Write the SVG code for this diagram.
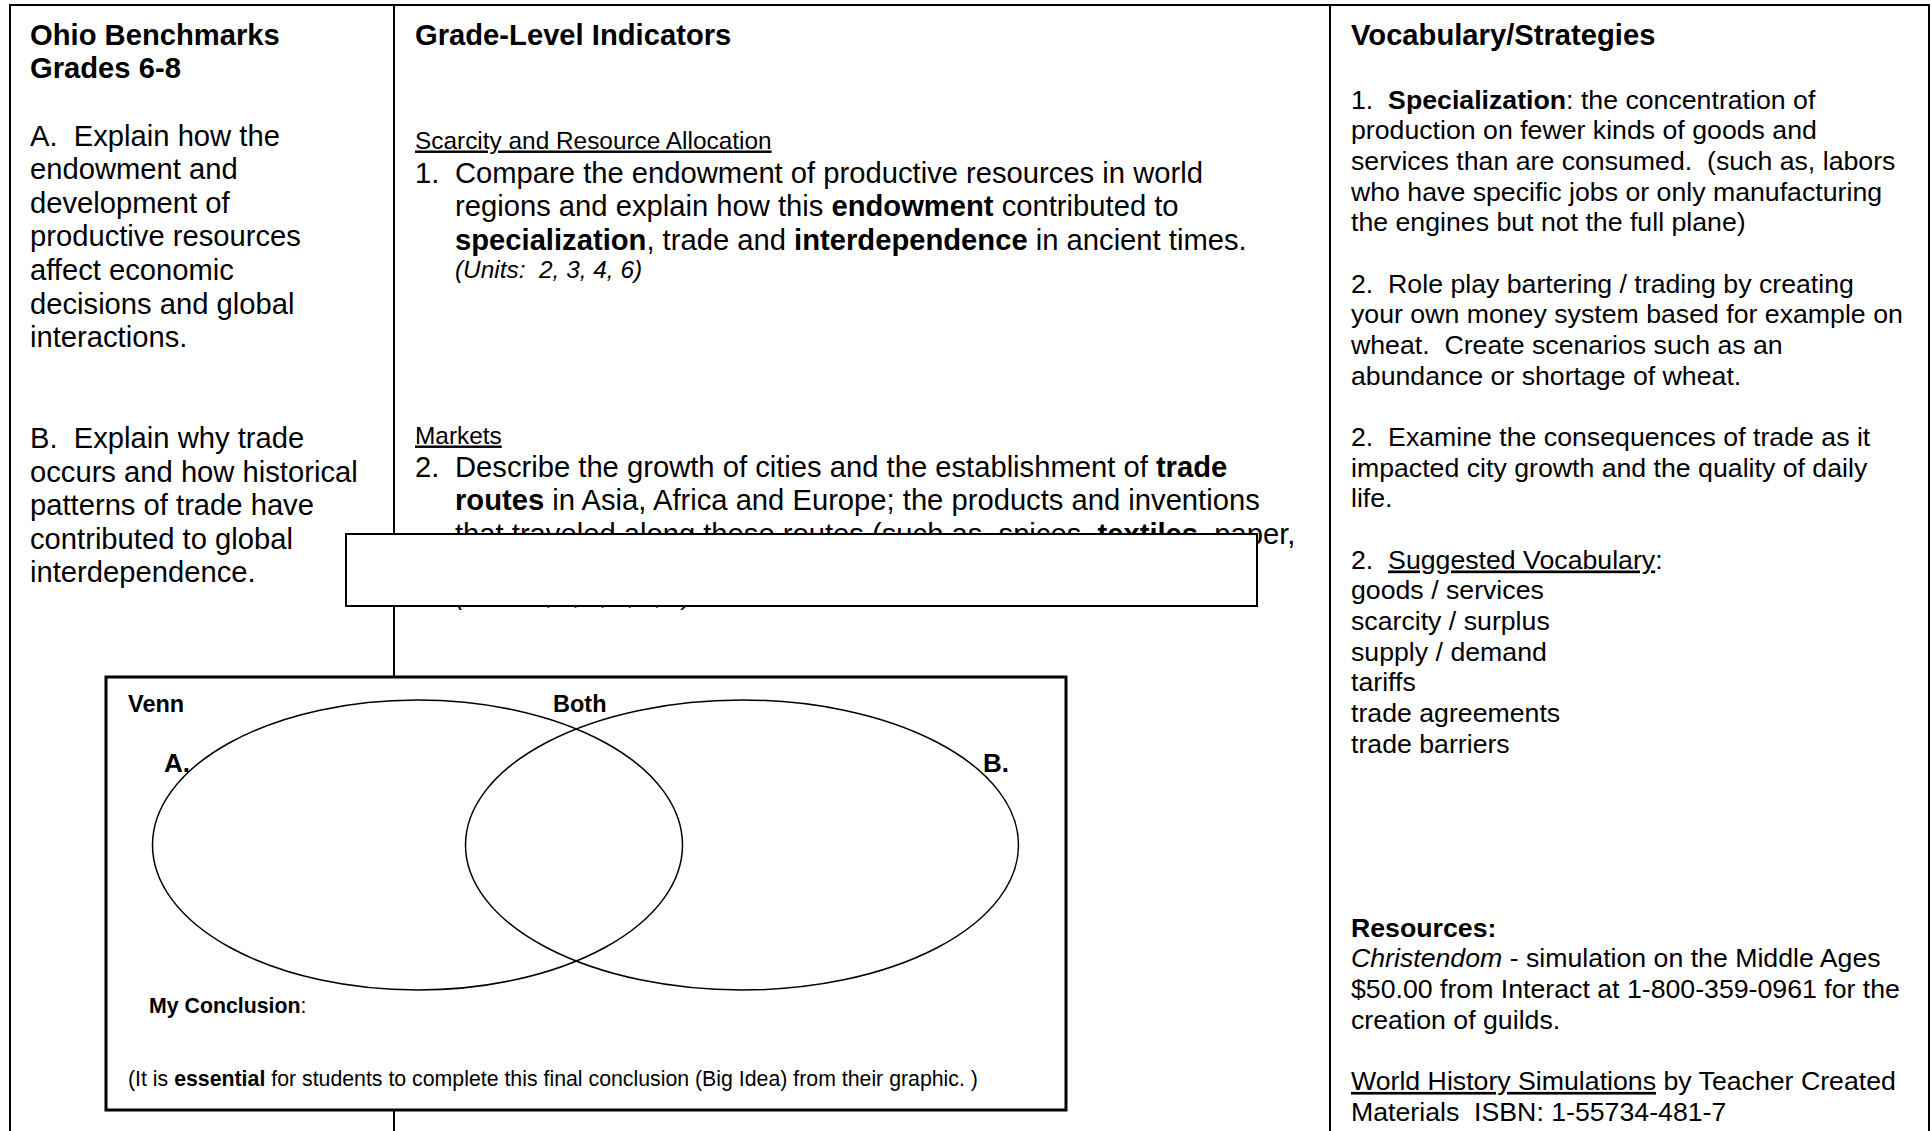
<svg xmlns="http://www.w3.org/2000/svg" width="1931" height="1131" viewBox="0 0 1931 1131">
<style>
text{font-family:"Liberation Sans",Arial,sans-serif;fill:#000;white-space:pre}
.b{font-weight:bold}
.t{font-size:29.2px}
.s{font-size:24.4px}
.m{font-size:26.7px}
.i{font-style:italic}
.u{text-decoration:underline}
.v{font-size:21.3px}
.line{stroke:#000;stroke-width:2;fill:none}
</style>
<rect width="1931" height="1131" fill="#fff"/>
<g id="table">
<path class="line" d="M10,1131 V5 H1929 V1131"/>
<line class="line" x1="394" y1="5" x2="394" y2="1131"/>
<line class="line" x1="1330" y1="5" x2="1330" y2="1131"/>
</g>
<g id="benchmarks" transform="translate(0,1.5)">
<text class="t b" x="30" y="43">Ohio Benchmarks</text>
<text class="t b" x="30" y="76.6">Grades 6-8</text>
<text class="t" x="30" y="144">A.  Explain how the</text>
<text class="t" x="30" y="177.6">endowment and</text>
<text class="t" x="30" y="211.2">development of</text>
<text class="t" x="30" y="244.8">productive resources</text>
<text class="t" x="30" y="278.4">affect economic</text>
<text class="t" x="30" y="312">decisions and global</text>
<text class="t" x="30" y="345.6">interactions.</text>
<text class="t" x="30" y="446.4">B.  Explain why trade</text>
<text class="t" x="30" y="480">occurs and how historical</text>
<text class="t" x="30" y="513.6">patterns of trade have</text>
<text class="t" x="30" y="547.2">contributed to global</text>
<text class="t" x="30" y="580.8">interdependence.</text>
</g>
<g id="indicators" transform="translate(0,1.5)">
<text class="t b" x="415" y="43">Grade-Level Indicators</text>
<text class="s u" x="415" y="147">Scarcity and Resource Allocation</text>
<text class="t" x="415" y="181">1.</text>
<text class="t" x="455" y="181">Compare the endowment of productive resources in world</text>
<text class="t" x="455" y="214.6">regions and explain how this <tspan class="b">endowment</tspan> contributed to</text>
<text class="t" x="455" y="248.2"><tspan class="b">specialization</tspan>, trade and <tspan class="b">interdependence</tspan> in ancient times.</text>
<text class="s i" x="455" y="276">(Units:  2, 3, 4, 6)</text>
<text class="s u" x="415" y="442">Markets</text>
<text class="t" x="415" y="475">2.</text>
<text class="t" x="455" y="475">Describe the growth of cities and the establishment of <tspan class="b">trade</tspan></text>
<text class="t" x="455" y="508.6"><tspan class="b">routes</tspan> in Asia, Africa and Europe; the products and inventions</text>
<text class="t" x="455" y="542.2">that traveled along these routes (such as, spices, <tspan class="b">textiles</tspan>, paper,</text>
<text class="s i" x="456" y="603">(Units: 2, 3, 4, 5, 6, 7)</text>
</g>
<g id="vocabulary" transform="translate(0,1.5)">
<text class="t b" x="1351" y="43">Vocabulary/Strategies</text>
<text class="m" x="1351" y="107">1.  <tspan class="b">Specialization</tspan>: the concentration of</text>
<text class="m" x="1351" y="137.7">production on fewer kinds of goods and</text>
<text class="m" x="1351" y="168.3">services than are consumed.  (such as, labors</text>
<text class="m" x="1351" y="199">who have specific jobs or only manufacturing</text>
<text class="m" x="1351" y="229.7">the engines but not the full plane)</text>
<text class="m" x="1351" y="291">2.  Role play bartering / trading by creating</text>
<text class="m" x="1351" y="321.7">your own money system based for example on</text>
<text class="m" x="1351" y="352.4">wheat.  Create scenarios such as an</text>
<text class="m" x="1351" y="383">abundance or shortage of wheat.</text>
<text class="m" x="1351" y="444.4">2.  Examine the consequences of trade as it</text>
<text class="m" x="1351" y="475">impacted city growth and the quality of daily</text>
<text class="m" x="1351" y="505.7">life.</text>
<text class="m" x="1351" y="567">2.  <tspan class="u">Suggested Vocabulary</tspan>:</text>
<text class="m" x="1351" y="597.7">goods / services</text>
<text class="m" x="1351" y="628.4">scarcity / surplus</text>
<text class="m" x="1351" y="659">supply / demand</text>
<text class="m" x="1351" y="689.7">tariffs</text>
<text class="m" x="1351" y="720.4">trade agreements</text>
<text class="m" x="1351" y="751">trade barriers</text>
<text class="m b" x="1351" y="935">Resources:</text>
<text class="m" x="1351" y="965.7"><tspan class="i">Christendom</tspan> - simulation on the Middle Ages</text>
<text class="m" x="1351" y="996.4">$50.00 from Interact at 1-800-359-0961 for the</text>
<text class="m" x="1351" y="1027">creation of guilds.</text>
<text class="m" x="1351" y="1088.4"><tspan class="u">World History Simulations</tspan> by Teacher Created</text>
<text class="m" x="1351" y="1119">Materials  ISBN: 1-55734-481-7</text>
</g>
<g id="blank-box">
<rect x="346" y="534" width="911" height="72" fill="#fff" stroke="#000" stroke-width="2"/>
</g>
<g id="venn">
<rect x="106" y="677" width="960" height="433" fill="#fff" stroke="#000" stroke-width="3"/>
<ellipse cx="417.5" cy="845" rx="265" ry="145" fill="none" stroke="#000" stroke-width="1.5"/>
<ellipse cx="742" cy="845" rx="276.5" ry="145" fill="none" stroke="#000" stroke-width="1.5"/>
<text class="b" style="font-size:23.5px" x="128" y="712">Venn</text>
<text class="b" style="font-size:23.5px" x="553" y="712">Both</text>
<text class="b" style="font-size:26px" x="164" y="772">A.</text>
<text class="b" style="font-size:26px" x="983" y="772">B.</text>
<text class="v" x="149" y="1013"><tspan class="b">My Conclusion</tspan>:</text>
<text class="v" x="128" y="1086">(It is <tspan class="b">essential</tspan> for students to complete this final conclusion (Big Idea) from their graphic. )</text>
</g>
</svg>
